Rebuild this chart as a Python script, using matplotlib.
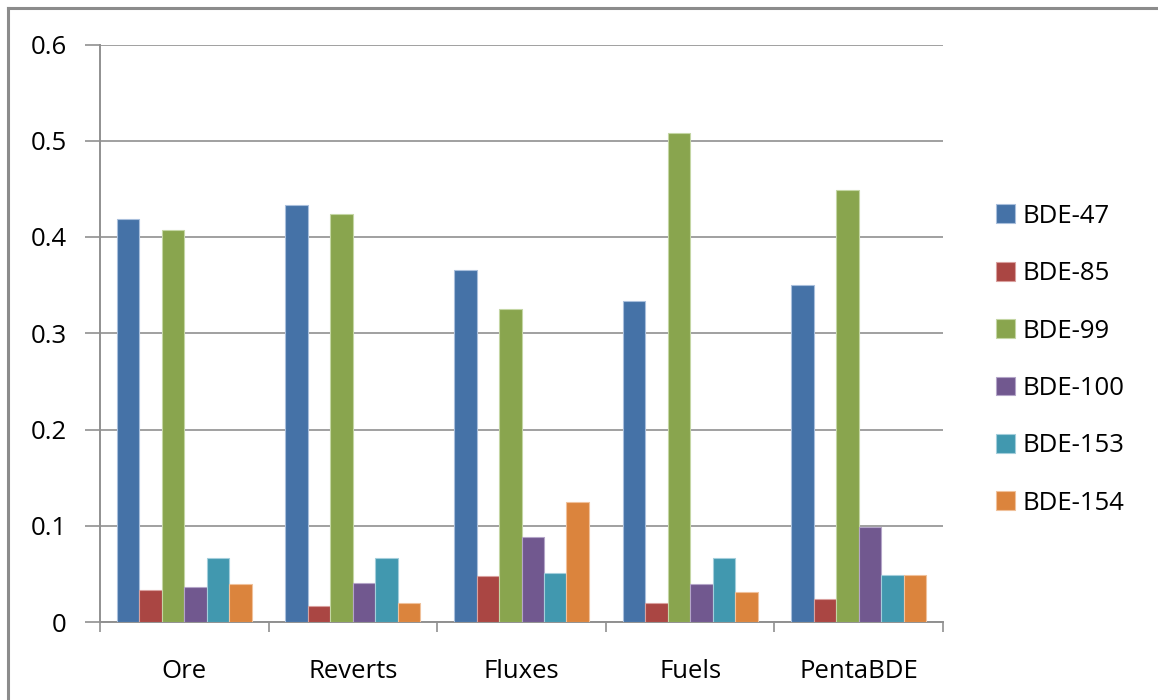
import matplotlib
matplotlib.use("Agg")
import matplotlib.pyplot as plt
from matplotlib.lines import Line2D
import numpy as np

categories = ["Ore", "Reverts", "Fluxes", "Fuels", "PentaBDE"]
series_names = ["BDE-47", "BDE-85", "BDE-99", "BDE-100", "BDE-153", "BDE-154"]
bde47 = [0.419, 0.433, 0.366, 0.333, 0.350]
bde85 = [0.033, 0.017, 0.048, 0.020, 0.024]
bde99 = [0.407, 0.424, 0.325, 0.508, 0.449]
bde100 = [0.036, 0.041, 0.088, 0.039, 0.099]
bde153 = [0.067, 0.067, 0.051, 0.066, 0.049]
bde154 = [0.039, 0.020, 0.125, 0.031, 0.049]
series_values = [bde47, bde85, bde99, bde100, bde153, bde154]
y_ticks = [0, 0.1, 0.2, 0.3, 0.4, 0.5, 0.6]
y_tick_labels = ["0", "0.1", "0.2", "0.3", "0.4", "0.5", "0.6"]

colors = ["#4572A7", "#AA4643", "#89A54E", "#71588F", "#4198AF", "#DB843D"]
edges = ["#A9BFDC", "#D9A09E", "#C4D6A4", "#B4A5C8", "#A3CEDB", "#F0C19B"]

plt.rcParams["font.family"] = ["Open Sans", "DejaVu Sans"]

W, H = 1158, 700
fig = plt.figure(figsize=(W / 100, H / 100), dpi=100)
ax = fig.add_axes([100 / W, 1 - 622 / H, (943 - 100) / W, (622 - 44.5) / H])

n = len(series_names)
bw = 1.0 / (n + 1.5)
x = np.arange(len(categories))
for i, (name, vals) in enumerate(zip(series_names, series_values)):
    offs = (i - (n - 1) / 2) * bw
    ax.bar(x + offs, vals, width=bw, color=colors[i], edgecolor=edges[i],
           linewidth=0.8, label=name, zorder=3)

ax.set_xlim(-0.5, len(categories) - 0.5)
ax.set_ylim(0, 0.6)
ax.set_yticks(y_ticks)
ax.set_yticklabels(y_tick_labels)
ax.yaxis.grid(True, color="#A0A0A0", linewidth=1.4, zorder=0)
ax.set_axisbelow(True)

ax.set_xticks(x)
ax.set_xticklabels(categories)
ax.set_xticks(np.arange(len(categories) + 1) - 0.5, minor=True)
ax.tick_params(axis="x", which="major", length=0, pad=27, labelsize=18.5, colors="#000000")
ax.tick_params(axis="x", which="minor", length=7, width=1.2, color="#909090", direction="out")
ax.tick_params(axis="y", length=11, width=1.2, color="#909090", pad=13, labelsize=18.5)

for s in ["top", "right"]:
    ax.spines[s].set_visible(False)
for s in ["left", "bottom"]:
    ax.spines[s].set_color("#909090")
    ax.spines[s].set_linewidth(1.4)

leg = fig.legend(loc="upper left", bbox_to_anchor=(983 / W, 1 - 191 / H),
                 frameon=False, fontsize=18.5, handlelength=0.75, handleheight=0.75,
                 handletextpad=0.3, labelspacing=1.26, borderpad=0)

# Chart-area border along the top and left edges
fig.add_artist(Line2D([8 / W, 1.0], [1 - 8 / H, 1 - 8 / H], color="#8C8C8C",
                      linewidth=2.2, transform=fig.transFigure))
fig.add_artist(Line2D([8 / W, 8 / W], [0.0, 1 - 8 / H], color="#8C8C8C",
                      linewidth=2.2, transform=fig.transFigure))

fig.savefig("out.png", dpi=100, facecolor="white")
